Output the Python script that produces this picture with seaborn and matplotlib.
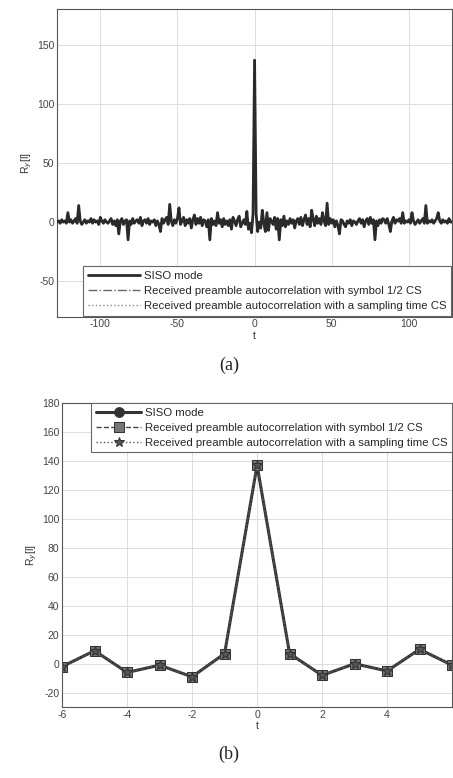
import numpy as np
import pandas as pd
import matplotlib
matplotlib.use("Agg")
import matplotlib.pyplot as plt
import seaborn as sns

# ---------------- data (a): lags -128..128 ----------------
lags_a = list(range(-128, 129))
# negative lags -128..-1
neg_vals = [0, 1, -1, 2, 0, 1, -1, 8, 0, 2, -1, 1, 3, -1, 14, 1, -2, 0, 2, -1,
            1, 0, 3, -1, 2, 0, 1, -2, 4, 1, -1, 2, 0, -1, 1, 3, -2, 1, -3, 2,
            -10, 1, 3, -2, 1, 2, -15, 1, -2, 3, -1, 1, 2, -1, 4, -3, 1, 2, -1, 3,
            -2, 1, 0, 2, -3, 1, -2, -8, 3, -1, 2, 4, -2, 15, 1, -3, 2, -1, 3, 12,
            -2, 1, 4, -3, 2, -1, 3, -5, 2, 6, -2, 3, -1, 4, -3, 2, 1, -4, 2, -15,
            3, -2, 1, -3, 8, -1, 2, -4, 3, -2, 1, -3, 2, -6, 4, 1, -3, 2, 5, -4,
            -1, 2, -2, 9, -6, -1, -9, 7]
peak_val = [137]
# positive lags 1..128
pos_vals = [7, -8, 0, -5, 10, -1, -8, 8, -7, 3, 1, -2, 4, -6, 3, -15, 2, -3, 5, -4,
            1, -2, 3, -1, 2, -5, 1, 3, -2, 4, -3, 2, 6, -2, 3, -4, 10, 2, -3, 5,
            -1, 3, -2, 8, 1, -3, 16, -2, 3, -1, 2, -4, 1, -3, -10, 2, 1, -2, -4, 1,
            -1, 2, -3, 1, 0, -2, 1, 3, -1, 2, -4, 1, 3, -2, 4, -1, 2, -15, 1, -3,
            2, -1, 3, 2, -1, 3, -2, -8, 1, 4, -1, 2, 1, 3, -1, 8, -1, 1, 0, 2,
            -1, 8, 1, -2, 0, 2, -1, 1, 3, -1, 14, -1, 1, 0, 2, -1, 1, 3, 8, 1,
            -1, 2, 0, 1, -1, 3, 0, 0]
siso_a = neg_vals + peak_val + pos_vals
cs_half_a = siso_a
cs_samp_a = siso_a

# ---------------- data (b): lags -6..6 ----------------
lags_b = [-6, -5, -4, -3, -2, -1, 0, 1, 2, 3, 4, 5, 6]
siso_b = [-2, 9, -6, -1, -9, 7, 137, 7, -8, 0, -5, 10, -1]
cs_half_b = [-2, 9, -6, -1, -9, 7, 137, 7, -8, 0, -5, 10, -1]
cs_samp_b = [-2, 9, -6, -1, -9, 7, 137, 7, -8, 0, -5, 10, -1]

labels = ["SISO mode",
          "Received preamble autocorrelation with symbol 1/2 CS",
          "Received preamble autocorrelation with a sampling time CS"]

sns.set_theme(style="whitegrid")
plt.rcParams['font.family'] = ['Liberation Sans', 'DejaVu Sans']
plt.rcParams.update({
    'axes.edgecolor': '#555555',
    'axes.linewidth': 0.8,
    'axes.unicode_minus': False,
    'grid.color': '#d8d8d8',
    'grid.linewidth': 0.6,
    'xtick.color': '#555555',
    'ytick.color': '#555555',
    'xtick.labelcolor': '#444444',
    'ytick.labelcolor': '#444444',
})

fig = plt.figure(figsize=(4.53, 7.78), dpi=100)
ax1 = fig.add_axes([0.126, 0.593, 0.872, 0.395])
ax2 = fig.add_axes([0.137, 0.091, 0.861, 0.391])

dfa = pd.DataFrame({"l": lags_a, "siso": siso_a, "half": cs_half_a, "samp": cs_samp_a})
sns.lineplot(data=dfa, x="l", y="siso", ax=ax1, color="#2a2a2a", lw=2.0,
             label=labels[0], zorder=4)
sns.lineplot(data=dfa, x="l", y="half", ax=ax1, color="#666666", lw=1.0,
             linestyle="-.", label=labels[1], zorder=3)
sns.lineplot(data=dfa, x="l", y="samp", ax=ax1, color="#888888", lw=1.0,
             linestyle=":", label=labels[2], zorder=3)
ax1.set_xlim(-128, 128)
ax1.set_ylim(-80, 180)
ax1.set_xticks([-100, -50, 0, 50, 100])
ax1.set_yticks([-50, 0, 50, 100, 150])
ax1.set_xlabel("t", fontsize=7.5, color="#333333", labelpad=1)
ax1.set_ylabel(r"R$_y$[l]", fontsize=7.5, color="#333333", labelpad=2)
ax1.tick_params(labelsize=7.5, length=2, pad=2, direction='in')
leg1 = ax1.legend(loc="lower right", fontsize=8.2, frameon=True, fancybox=False,
                  edgecolor="#666666", framealpha=1, borderpad=0.4,
                  labelspacing=0.45, handlelength=4.6, handletextpad=0.3,
                  borderaxespad=0.1)
leg1.get_frame().set_linewidth(0.8)
leg1.set_zorder(10)

dfb = pd.DataFrame({"l": lags_b, "siso": siso_b, "half": cs_half_b, "samp": cs_samp_b})
sns.lineplot(data=dfb, x="l", y="siso", ax=ax2, color="#333333", lw=2.2, marker="o",
             markersize=7, markeredgecolor="#333333", label=labels[0])
sns.lineplot(data=dfb, x="l", y="half", ax=ax2, color="#444444", lw=1.0, marker="s",
             markersize=7, markerfacecolor="#777777", markeredgecolor="#333333",
             linestyle="--", label=labels[1])
sns.lineplot(data=dfb, x="l", y="samp", ax=ax2, color="#555555", lw=1.0, marker="*",
             markersize=7, markeredgecolor="#333333", linestyle=":", label=labels[2])
ax2.set_xlim(-6, 6)
ax2.set_ylim(-30, 180)
ax2.set_xticks([-6, -4, -2, 0, 2, 4])
ax2.set_yticks(list(range(-20, 181, 20)))
ax2.set_xlabel("t", fontsize=7.5, color="#333333", labelpad=1)
ax2.set_ylabel(r"R$_y$[l]", fontsize=7.5, color="#333333", labelpad=2)
ax2.tick_params(labelsize=7.5, length=2, pad=2, direction='in')
leg2 = ax2.legend(loc="upper right", fontsize=8.2, frameon=True, fancybox=False,
                  edgecolor="#666666", framealpha=1, borderpad=0.4,
                  labelspacing=0.45, handlelength=4.0, handletextpad=0.3,
                  borderaxespad=0.0)
leg2.get_frame().set_linewidth(0.8)

fig.text(0.505, 0.531, "(a)", ha="center", va="center", fontsize=13,
         family=["Liberation Serif", "DejaVu Serif"], color="#222222")
fig.text(0.505, 0.031, "(b)", ha="center", va="center", fontsize=13,
         family=["Liberation Serif", "DejaVu Serif"], color="#222222")

fig.savefig("out.png", dpi=100)
